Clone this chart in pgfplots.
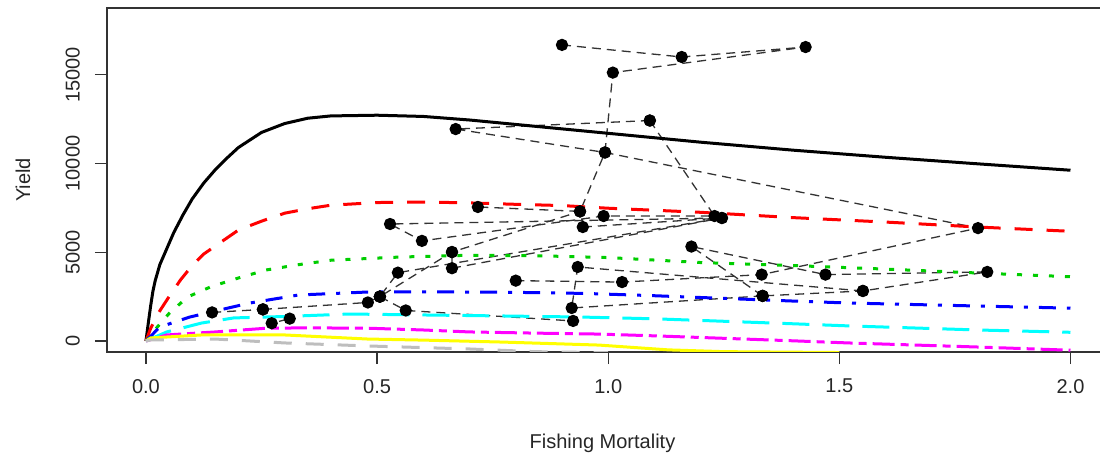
\documentclass[border=0pt]{standalone}
\usepackage{fontspec}
\setmainfont{Liberation Sans}
\usepackage{pgfplots}
\pgfplotsset{compat=1.18}
\definecolor{rred}{HTML}{FF0000}
\definecolor{rgreen}{HTML}{00CD00}
\definecolor{rblue}{HTML}{0000FF}
\definecolor{rcyan}{HTML}{00FFFF}
\definecolor{rmagenta}{HTML}{FF00FF}
\definecolor{ryellow}{HTML}{FFFF00}
\definecolor{rgray}{HTML}{BEBEBE}
\definecolor{frame}{HTML}{333333}

\begin{document}
\begin{tikzpicture}
\useasboundingbox (0pt,0pt) rectangle (1100pt,460pt);
\begin{axis}[at={(107pt,108pt)},anchor=south west,scale only axis,width=1000pt,height=344pt,
  xmin=-0.0843,xmax=2.079,ymin=-620,ymax=18760,
  xtick={0,0.5,1,1.5,2},ytick={0,5000,10000,15000},
  xtick pos=bottom,ytick pos=left,
  scaled ticks=false,
  tick align=outside,major tick length=12pt,
  tick style={frame,line width=1.2pt},
  axis line style={frame,line width=1.2pt},
  tick label style={font=\fontsize{20}{24}\selectfont,text=black!85,inner sep=0pt},
  /pgf/number format/assume math mode=true,
  xticklabel style={/pgf/number format/fixed,/pgf/number format/fixed zerofill,/pgf/number format/precision=1,anchor=north},
  yticklabel style={/pgf/number format/1000 sep={},rotate=90,anchor=south},
  xticklabel shift=15pt,yticklabel shift=15pt,
  xlabel={Fishing Mortality},ylabel={Yield},
  label style={font=\fontsize{20}{24}\selectfont,text=black!85,inner sep=0pt},
  xlabel style={at={(axis description cs:0.4955,-0.2791)},anchor=base},
  ylabel style={at={(axis description cs:-0.077,0.5)},anchor=base},
  traj/.style={color=frame,line width=1.3pt,dash pattern=on 9pt off 6pt,mark=*,mark size=5.5pt,mark options={solid,fill=black,draw=black}},
  curve/.style={line width=3pt,no marks},
]
% trajectory (dashed lines with points)
\addplot[traj] coordinates {(0.900,16680) (1.159,16000) (1.427,16560) (1.010,15120) (0.993,10620) (0.939,7300) (0.718,7550)};
\addplot[traj] coordinates {(1.090,12420) (0.670,11940) (0.993,10620) (1.800,6360) (1.332,3740) (1.030,3320) (0.800,3400)};
\addplot[traj] coordinates {(1.090,12420) (1.230,7040) (0.990,7040) (0.597,5640) (0.528,6590) (1.246,6930) (0.545,3850) (0.506,2500) (0.662,5010) (0.939,7300)};
\addplot[traj] coordinates {(0.945,6420) (1.246,6930) (0.662,4100) (0.662,5010)};
\addplot[traj] coordinates {(0.506,2500) (0.562,1720) (0.924,1130)};
\addplot[traj] coordinates {(0.143,1610) (0.253,1780) (0.272,1000) (0.311,1260)};
\addplot[traj] coordinates {(0.253,1780) (0.480,2170) (0.506,2500)};
\addplot[traj] coordinates {(1.334,2540) (1.180,5320) (1.470,3740) (1.820,3890) (1.551,2820) (1.334,2540)};
\addplot[traj] coordinates {(1.551,2820) (0.934,4170) (0.921,1860) (1.334,2540)};
% yield curves
\addplot[curve,black] coordinates {(0,0) (0.005,1000) (0.01,1950) (0.015,2800) (0.02,3400) (0.03,4300) (0.045,5200) (0.06,6100) (0.08,7100) (0.1,8000) (0.125,8900) (0.15,9650) (0.175,10300) (0.2,10900) (0.25,11750) (0.3,12250) (0.35,12550) (0.4,12680) (0.5,12720) (0.6,12650) (0.7,12450) (0.8,12200) (0.9,11950) (1.0,11700) (1.2,11200) (1.4,10750) (1.6,10350) (1.8,9980) (2.0,9620)};
\addplot[curve,rred,dash pattern=on 18pt off 14pt] coordinates {(0,0) (0.01,700) (0.025,1500) (0.05,2500) (0.075,3450) (0.1,4250) (0.125,4900) (0.15,5350) (0.2,6250) (0.25,6750) (0.3,7200) (0.35,7450) (0.4,7650) (0.5,7800) (0.6,7830) (0.7,7780) (0.8,7700) (0.9,7630) (1.0,7480) (1.2,7250) (1.4,6950) (1.6,6700) (1.8,6420) (2.0,6180)};
\addplot[curve,rgreen,dash pattern=on 5pt off 11pt] coordinates {(0,0) (0.025,800) (0.05,1550) (0.09,2480) (0.14,3050) (0.2,3550) (0.26,4000) (0.33,4300) (0.4,4550) (0.55,4730) (0.7,4830) (0.85,4800) (1.0,4700) (1.2,4420) (1.4,4250) (1.6,4050) (1.8,3830) (2.0,3620)};
\addplot[curve,rblue,dash pattern=on 17pt off 11pt on 4pt off 11pt] coordinates {(0,0) (0.03,790) (0.06,1050) (0.095,1350) (0.14,1630) (0.225,2140) (0.33,2590) (0.48,2760) (0.62,2770) (0.8,2740) (0.95,2680) (1.1,2550) (1.23,2420) (1.4,2250) (1.52,2140) (1.8,1970) (2.0,1850)};
\addplot[curve,rcyan,dash pattern=on 27pt off 13pt] coordinates {(0,0) (0.045,510) (0.12,1010) (0.19,1300) (0.3,1380) (0.44,1520) (0.62,1460) (0.8,1400) (0.94,1350) (1.1,1250) (1.23,1130) (1.4,970) (1.52,850) (1.8,620) (2.0,490)};
\addplot[curve,rmagenta,dash pattern=on 8pt off 6pt on 22pt off 6pt] coordinates {(0,0) (0.045,340) (0.15,510) (0.26,720) (0.35,740) (0.48,720) (0.6,620) (0.7,510) (0.85,440) (0.98,390) (1.1,290) (1.23,170) (1.4,10) (1.52,-110) (1.8,-340) (2.0,-520)};
\addplot[curve,ryellow] coordinates {(0,0) (0.01,170) (0.12,340) (0.3,340) (0.48,110) (0.6,50) (0.77,-60) (0.98,-230) (1.13,-500) (1.25,-600) (1.5,-650)};
\addplot[curve,rgray,dash pattern=on 18pt off 14pt] coordinates {(0,0) (0.01,56) (0.15,110) (0.3,-110) (0.48,-280) (0.7,-450) (0.84,-600) (1.0,-660)};
\end{axis}
\end{tikzpicture}
\end{document}
